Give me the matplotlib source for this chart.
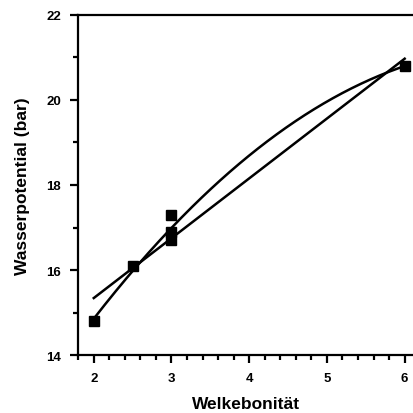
import matplotlib
matplotlib.use('Agg')
import matplotlib.pyplot as plt
import numpy as np
from matplotlib.ticker import MultipleLocator

plt.rcParams['font.family'] = ['Liberation Sans', 'DejaVu Sans']

# Messwerte
welke = np.array([2.0, 2.5, 3.0, 3.0, 3.0, 6.0])
wasser = np.array([14.8, 16.1, 16.7, 16.9, 17.3, 20.8])

# Lineare und quadratische Anpassung
lin = np.polyfit(welke, wasser, 1)
quad = np.polyfit(welke, wasser, 2)
xs = np.linspace(2, 6, 200)

fig = plt.figure(figsize=(4.14, 4.14), dpi=100)
ax = fig.add_axes([0.188, 0.14, 0.812, 0.8215])

ax.plot(xs, np.polyval(lin, xs), color='black', lw=1.8)
ax.plot(xs, np.polyval(quad, xs), color='black', lw=1.8)
ax.plot(welke, wasser, 's', color='black', markersize=6.5, clip_on=False)

ax.set_xlim(1.795, 6.12)
ax.set_ylim(14, 22)
ax.xaxis.set_major_locator(MultipleLocator(1))
ax.xaxis.set_minor_locator(MultipleLocator(0.2))
ax.yaxis.set_major_locator(MultipleLocator(2))
ax.yaxis.set_minor_locator(MultipleLocator(1))

ax.spines['right'].set_visible(False)
for s in ['left', 'bottom', 'top']:
    ax.spines[s].set_linewidth(1.6)

ax.tick_params(which='major', direction='out', length=6, width=1.6, labelsize=9.5, pad=6)
ax.tick_params(which='minor', direction='out', length=3.5, width=1.6)
for lab in ax.get_xticklabels() + ax.get_yticklabels():
    lab.set_fontweight('bold')

ax.set_xlabel('Welkebonität', fontsize=12.5, fontweight='bold', labelpad=9)
ax.set_ylabel('Wasserpotential (bar)', fontsize=12.5, fontweight='bold', labelpad=12)

plt.savefig('out.png', dpi=100)
plt.close()
